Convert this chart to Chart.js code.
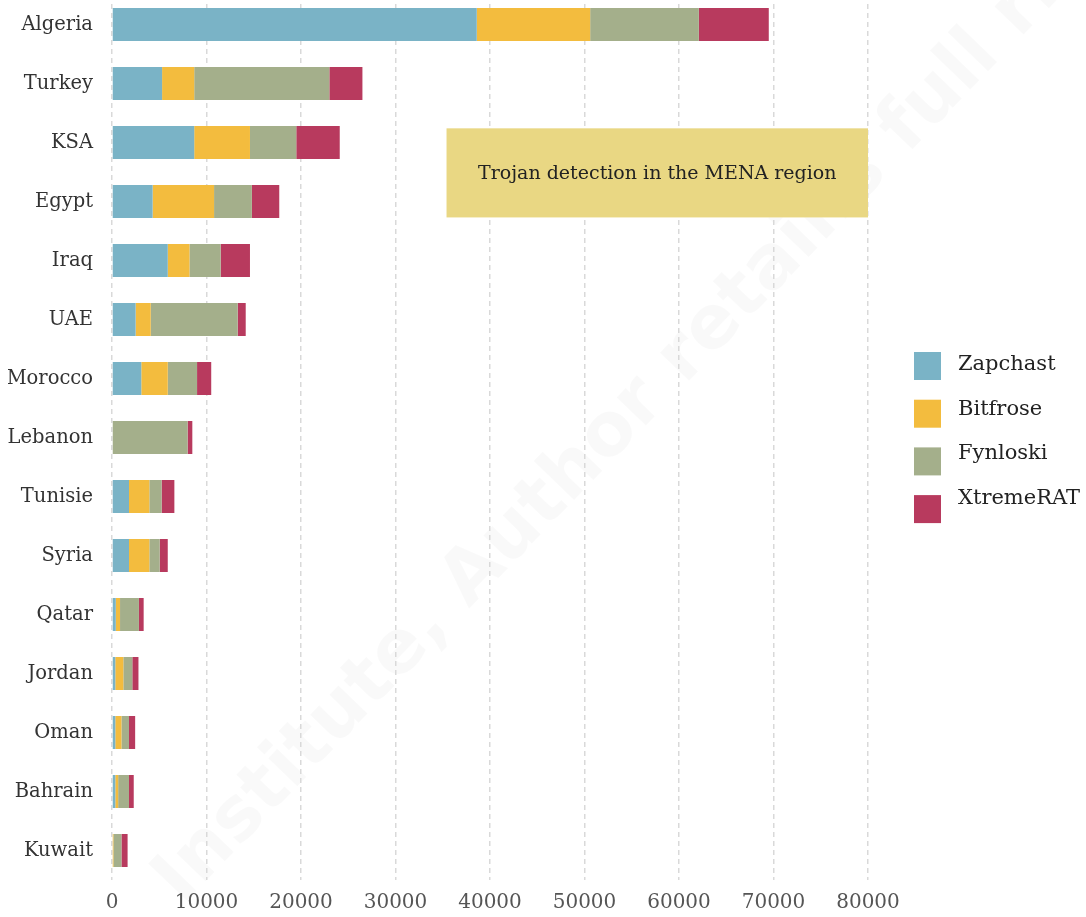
<!DOCTYPE html>
<html>
<head>
<meta charset="utf-8">
<script src="https://cdn.jsdelivr.net/npm/chart.js@4.4.1/dist/chart.umd.min.js"></script>
<style>
    html, body { margin: 0; padding: 0; background: #fff; overflow: hidden; }
    #wrap { position: absolute; left: 0; top: -5px; width: 1086px; height: 931px; }
</style>
</head>
<body>
<div id="wrap"><canvas id="trojanChart"></canvas></div>
<script>
// Data
const categories = ["Algeria", "Turkey", "KSA", "Egypt", "Iraq", "UAE", "Morocco", "Lebanon",
    "Tunisie", "Syria", "Qatar", "Jordan", "Oman", "Bahrain", "Kuwait"];
const zapchast = [38600, 5300, 8700, 4300, 5900, 2500, 3100, 0, 1800, 1800, 400, 350, 350, 350, 0];
const bitfrose = [12000, 3400, 5900, 6500, 2300, 1600, 2800, 0, 2150, 2150, 450, 850, 650, 300, 150];
const fynloski = [11500, 14300, 4900, 4000, 3300, 9200, 3100, 8000, 1300, 1100, 2000, 950, 800, 1150, 850];
const xtremeRAT = [7400, 3500, 4600, 2900, 3100, 850, 1500, 500, 1350, 850, 500, 650, 650, 500, 650];
const seriesNames = ["Zapchast", "Bitfrose", "Fynloski", "XtremeRAT"];
const tickValues = [0, 10000, 20000, 30000, 40000, 50000, 60000, 70000, 80000];
const titleText = "Trojan detection in the MENA region";

const colors = ["#7ab3c6", "#f3bc3e", "#a4af8b", "#b83a5e"];
const SHIFT = 5; // canvas is moved up by this many px

// Faint diagonal watermark behind everything
const watermark = {
    id: "watermark",
    beforeDraw(chart) {
        const ctx = chart.ctx;
        ctx.save();
        ctx.translate(195, 918 + SHIFT);
        ctx.rotate(-46 * Math.PI / 180);
        ctx.font = "bold 74px 'DejaVu Sans', sans-serif";
        ctx.fillStyle = "rgba(0, 0, 0, 0.022)";
        ctx.textBaseline = "bottom";
        ctx.fillText("Institute, Author retains full rights", 0, 0);
        ctx.restore();
    }
};

// Yellow title box sitting on the grid
const titleBox = {
    id: "titleBox",
    beforeDatasetsDraw(chart) {
        const ctx = chart.ctx;
        const x = chart.scales.x, y = chart.scales.y;
        const band = y.getPixelForValue(1) - y.getPixelForValue(0);
        const left = x.getPixelForValue(35400);
        const right = x.getPixelForValue(80000);
        const top = y.getPixelForValue(2) - 0.24 * band;
        const bottom = y.getPixelForValue(3) + 0.27 * band;
        ctx.save();
        ctx.fillStyle = "#e9d783";
        ctx.fillRect(left, top, right - left, bottom - top);
        ctx.fillStyle = "#222";
        ctx.font = "19px 'DejaVu Serif', serif";
        ctx.textAlign = "center";
        ctx.textBaseline = "middle";
        ctx.fillText(titleText, (left + right) / 2, (top + bottom) / 2 + 1);
        ctx.restore();
    }
};

// Legend on the right
const sideLegend = {
    id: "sideLegend",
    afterDraw(chart) {
        const ctx = chart.ctx;
        ctx.save();
        chart.data.datasets.forEach((ds, i) => {
            ctx.fillStyle = ds.backgroundColor;
            ctx.fillRect(914, 352 + SHIFT + i * 47.7, 27, 28);
            ctx.fillStyle = "#222";
            ctx.font = "21px 'DejaVu Serif', serif";
            ctx.textBaseline = "middle";
            ctx.fillText(ds.label, 958, 365 + SHIFT + i * 44.5);
        });
        ctx.restore();
    }
};

const seriesData = [zapchast, bitfrose, fynloski, xtremeRAT];

new Chart(document.getElementById("trojanChart"), {
    type: "bar",
    data: {
        labels: categories,
        datasets: seriesData.map((values, i) => ({
            label: seriesNames[i],
            data: values,
            backgroundColor: colors[i],
            borderWidth: 0,
            categoryPercentage: 1,
            barPercentage: 0.56
        }))
    },
    options: {
        indexAxis: "y",
        responsive: true,
        maintainAspectRatio: false,
        animation: false,
        layout: { padding: { left: 8, right: 218, top: 0, bottom: 0 } },
        scales: {
            x: {
                stacked: true,
                min: 0,
                max: 80000,
                afterBuildTicks: axis => { axis.ticks = tickValues.map(v => ({ value: v })); },
                ticks: {
                    color: "#555",
                    padding: 11,
                    font: { family: "'DejaVu Serif', serif", size: 20 },
                    callback: v => String(v)
                },
                grid: { color: "#d9d9d9", lineWidth: 1.5, drawTicks: false },
                border: { display: false, dash: [5, 4] }
            },
            y: {
                stacked: true,
                grid: { display: false, drawTicks: false },
                border: { display: false },
                ticks: {
                    color: "#333",
                    padding: 19,
                    font: { family: "'DejaVu Serif', serif", size: 19.5 }
                },
                afterFit: axis => {
                    axis.width = 104;
                    axis.paddingTop = 0;
                    axis.paddingBottom = 0;
                }
            }
        },
        plugins: {
            legend: { display: false },
            tooltip: { enabled: false }
        }
    },
    plugins: [watermark, titleBox, sideLegend]
});
</script>
</body>
</html>
